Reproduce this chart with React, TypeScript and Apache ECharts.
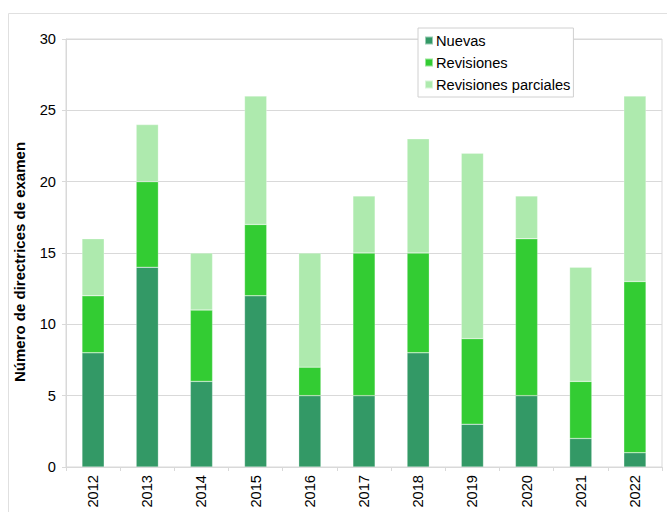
import React, { useEffect, useRef } from "react";
import * as echarts from "echarts";

const years = ["2012","2013","2014","2015","2016","2017","2018","2019","2020","2021","2022"];
const nuevas = [8, 14, 6, 12, 5, 5, 8, 3, 5, 2, 1];
const revisiones = [4, 6, 5, 5, 2, 10, 7, 6, 11, 4, 12];
const parciales = [4, 4, 4, 9, 8, 4, 8, 13, 3, 8, 13];
const yTitle = "Número de directrices de examen";

export default function App() {
  const ref = useRef<HTMLDivElement>(null);
  useEffect(() => {
    if (!ref.current) return;
    const chart = echarts.init(ref.current, undefined, { renderer: "svg" });
    const font = "Arial, 'Liberation Sans', sans-serif";
    const gridColor = "#d9d9d9";
    const fs = 14.67;
    const mk = (name: string, data: number[], color: string) => ({
      name,
      type: "bar",
      stack: "total",
      data,
      barWidth: "41%",
      itemStyle: { color, borderColor: "rgba(255,255,255,0.5)", borderWidth: 0.5 },
    });
    chart.setOption({
      animation: false,
      textStyle: { fontFamily: font },
      graphic: [
        {
          type: "rect",
          shape: { x: 8.5, y: 13.5, width: 700, height: 600 },
          style: { fill: "none", stroke: "#e0e0e0", lineWidth: 1 },
          silent: true,
          z: -10,
        },
        {
          type: "text",
          x: 19,
          y: 262,
          rotation: Math.PI / 2,
          style: {
            text: yTitle,
            fontSize: 15,
            fontWeight: "bold",
            fontFamily: font,
            fill: "#000",
            align: "center",
            verticalAlign: "middle",
          },
        },
      ],
      grid: { left: 66, top: 39, right: 5, bottom: 45, show: true, borderColor: gridColor, borderWidth: 1 },
      legend: {
        orient: "vertical",
        left: 418,
        top: 28,
        backgroundColor: "#fff",
        borderColor: "#d0d0d0",
        borderWidth: 1,
        padding: [5, 3, 5, 6],
        itemWidth: 8,
        itemHeight: 8,
        itemGap: 7,
        icon: "rect",
        textStyle: { fontSize: fs, color: "#000", fontFamily: font, padding: [0, 0, 0, -2] },
        data: ["Nuevas", "Revisiones", "Revisiones parciales"],
      },
      xAxis: {
        type: "category",
        data: years,
        axisLine: { lineStyle: { color: gridColor } },
        axisTick: { show: true, length: 4, lineStyle: { color: gridColor } },
        axisLabel: { rotate: 90, fontSize: fs, color: "#000", margin: 8, fontFamily: font },
      },
      yAxis: {
        type: "value",
        min: 0,
        max: 30,
        interval: 5,
        axisLine: { show: true, lineStyle: { color: gridColor } },
        axisTick: { show: true, length: 4, lineStyle: { color: gridColor } },
        axisLabel: { fontSize: fs, color: "#000", margin: 10, fontFamily: font },
        splitLine: { lineStyle: { color: gridColor } },
      },
      series: [
        mk("Nuevas", nuevas, "#339966"),
        mk("Revisiones", revisiones, "#33cc33"),
        mk("Revisiones parciales", parciales, "#aeeaae"),
      ],
    });
    return () => chart.dispose();
  }, []);
  return (
    <div
      ref={ref}
      style={{ position: "fixed", left: 0, top: 0, width: 667, height: 512, background: "#fff" }}
    />
  );
}
